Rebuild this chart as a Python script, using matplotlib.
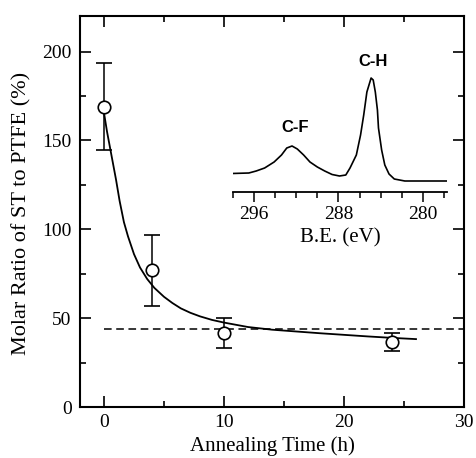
import matplotlib
matplotlib.use("Agg")
import matplotlib.pyplot as plt
from matplotlib.ticker import MultipleLocator

plt.rcParams['font.family'] = ['Liberation Serif', 'DejaVu Serif']

# measured molar ratio (%) vs annealing time (h)
time_h = [0, 4, 10, 24]
ratio = [169, 77, 41.7, 36.5]
ratio_err = [24.5, 20, 8.3, 5]

# fitted guide curve
curve_t = [0, 0.25, 0.5, 0.75, 1, 1.3, 1.66, 2, 2.5, 3, 3.6, 4.2, 5, 5.7, 6.4, 7.2,
           8, 9, 10, 12, 14, 16, 18, 20, 22, 24, 26]
curve_y = [165.5, 155, 146, 137, 128, 116, 104, 96, 86, 78.5, 72, 67, 62, 58.5, 55.5, 53,
           51, 49, 47.5, 45, 43.5, 42.5, 41.5, 40.6, 39.7, 38.9, 38.2]

# dashed reference level
ref_level = 44
ref_t = [0, 30]

# inset XPS C1s spectrum (binding energy eV, arb. intensity)
be = [298.1, 296.5, 295.8, 295.0, 294.1, 293.4, 292.9, 292.4, 291.9, 291.3, 290.7,
      290.0, 289.3, 288.6, 287.9, 287.3, 286.9, 286.3, 285.9, 285.6, 285.3, 284.9,
      284.7, 284.5, 284.3, 284.2, 283.9, 283.6, 283.2, 282.7, 281.7, 277.7]
intensity = [18.5, 19, 21, 24, 30, 37, 44, 46, 43, 37, 30,
             25, 21, 17.5, 16, 17, 24, 37, 57, 77, 100, 114,
             112, 100, 82, 64, 42, 27, 18, 13, 11, 11]
peak_labels = ['C-F', 'C-H']
peak_be = [292.1, 284.7]
peak_y = [64.5, 130]

fig = plt.figure(figsize=(4.76, 4.58), dpi=100)
ax = fig.add_axes([80/476, 1-407/458, 384/476, 391/458])

ax.errorbar(time_h, ratio, yerr=ratio_err, fmt='o', mfc='white', mec='black',
            ecolor='black', ms=9, mew=1.2, elinewidth=1.1, capsize=6, capthick=1.1, zorder=3)
ax.plot(curve_t, curve_y, color='black', lw=1.3, zorder=2)
ax.plot(ref_t, [ref_level, ref_level], color='black', lw=1.1, linestyle=(0, (5, 3)))

ax.set_xlim(-2, 30)
ax.set_ylim(0, 220)
ax.xaxis.set_major_locator(MultipleLocator(10))
ax.xaxis.set_minor_locator(MultipleLocator(5))
ax.yaxis.set_major_locator(MultipleLocator(50))
ax.yaxis.set_minor_locator(MultipleLocator(25))
ax.tick_params(which='both', direction='in', top=True, right=True, labelsize=14, width=1.2)
ax.tick_params(which='major', length=8, pad=6)
ax.tick_params(axis='x', which='major', pad=5)
ax.tick_params(which='minor', length=4)
for s in ax.spines.values():
    s.set_linewidth(1.5)

fig.text(22/476, 1-213/458, 'Molar Ratio of ST to PTFE (%)', rotation=90,
         ha='center', va='center', fontsize=16)
fig.text(272/476, 1-446/458, 'Annealing Time (h)', ha='center', va='center', fontsize=15)

# inset
ins = fig.add_axes([233/476, 1-192/458, 214/476, 142/458])
ins.patch.set_visible(False)
ins.plot(be, intensity, color='black', lw=1.2)
ins.set_xlim(298, 277.7)
ins.set_ylim(0, 142)
for k in ['left', 'right', 'top']:
    ins.spines[k].set_visible(False)
ins.spines['bottom'].set_linewidth(1.3)
ins.set_yticks([])
ins.set_xticks([296, 288, 280])
ins.xaxis.set_minor_locator(MultipleLocator(2))
ins.tick_params(which='both', direction='out', labelsize=14, width=1.1)
ins.tick_params(which='major', length=7, pad=3)
ins.tick_params(which='minor', length=4)
for lab, x, y in zip(peak_labels, peak_be, peak_y):
    ins.text(x, y, lab, ha='center', va='center', fontsize=12, fontweight='bold',
             family=['Liberation Sans', 'DejaVu Sans'])
fig.text(340/476, 1-238/458, 'B.E. (eV)', ha='center', va='center', fontsize=15)

fig.savefig('out.png', dpi=100)
